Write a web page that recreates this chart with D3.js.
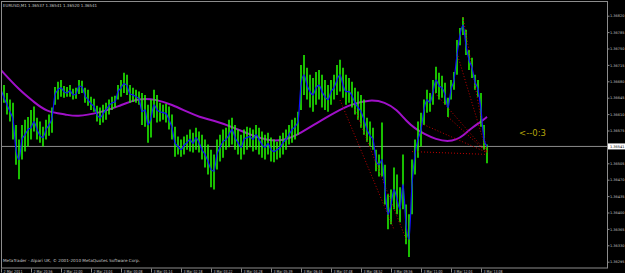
<!DOCTYPE html>
<html><head><meta charset="utf-8">
<script src="https://cdn.jsdelivr.net/npm/d3@7"></script>
<style>html,body{margin:0;padding:0;background:#000;overflow:hidden}svg{display:block}</style>
</head><body>
<script>
const symbolTitle = "EURUSD,M1 1.36537 1.36541 1.36520 1.36541";
const copyright = "MetaTrader - Alpari UK, \u00a9 2001-2010 MetaQuotes Software Corp.";
const timerLabel = "<--0:3";
const bidPrice = 1.36541;
const timeLabels = ["2 Mar 2011","2 Mar 20:56","2 Mar 22:00","2 Mar 23:04","3 Mar 00:08","3 Mar 01:14","3 Mar 02:18","3 Mar 03:22","3 Mar 04:28","3 Mar 05:39","3 Mar 06:44","3 Mar 07:48","3 Mar 08:52","3 Mar 09:56","3 Mar 11:00","3 Mar 12:04","3 Mar 13:08"];
const priceTicks = [1.36820,1.36785,1.36750,1.36715,1.36680,1.36645,1.36610,1.36575,1.36540,1.36505,1.36470,1.36435,1.36400,1.36365,1.36330,1.36295];

const high = [1.36679,1.36672,1.36655,1.36641,1.36634,1.36587,1.36556,1.36587,1.36598,1.36604,
1.36619,1.36626,1.36602,1.36594,1.36583,1.36598,1.36609,1.36624,1.36668,1.36679,
1.36683,1.36670,1.36668,1.36672,1.36664,1.36666,1.36683,1.36681,1.36666,1.36662,
1.36647,1.36643,1.36628,1.36624,1.36630,1.36634,1.36641,1.36647,1.36649,1.36672,
1.36683,1.36698,1.36694,1.36672,1.36666,1.36662,1.36658,1.36655,1.36651,1.36630,
1.36641,1.36662,1.36651,1.36634,1.36630,1.36632,1.36626,1.36609,1.36583,1.36562,
1.36556,1.36562,1.36566,1.36577,1.36570,1.36581,1.36573,1.36566,1.36556,1.36545,
1.36534,1.36524,1.36556,1.36566,1.36577,1.36581,1.36598,1.36602,1.36587,1.36577,
1.36566,1.36577,1.36583,1.36581,1.36577,1.36587,1.36581,1.36573,1.36566,1.36570,
1.36560,1.36556,1.36551,1.36564,1.36570,1.36577,1.36587,1.36598,1.36602,1.36615,
1.36715,1.36736,1.36709,1.36694,1.36687,1.36700,1.36704,1.36694,1.36683,1.36672,
1.36683,1.36694,1.36715,1.36726,1.36709,1.36694,1.36687,1.36679,1.36666,1.36658,
1.36651,1.36641,1.36602,1.36594,1.36581,1.36534,1.36524,1.36592,1.36502,1.36439,
1.36449,1.36496,1.36481,1.36454,1.36524,1.36417,1.36396,1.36513,1.36556,1.36594,
1.36613,1.36641,1.36662,1.36655,1.36683,1.36711,1.36698,1.36692,1.36677,1.36645,
1.36683,1.36700,1.36768,1.36794,1.36817,1.36790,1.36747,1.36730,1.36694,1.36683,
1.36655,1.36587,1.36545];
const low = [1.36641,1.36634,1.36609,1.36594,1.36556,1.36502,1.36471,1.36513,1.36530,1.36541,
1.36556,1.36573,1.36556,1.36549,1.36541,1.36556,1.36564,1.36570,1.36630,1.36641,
1.36647,1.36645,1.36647,1.36647,1.36641,1.36643,1.36653,1.36655,1.36634,1.36628,
1.36619,1.36615,1.36594,1.36587,1.36592,1.36598,1.36609,1.36619,1.36624,1.36641,
1.36647,1.36655,1.36651,1.36634,1.36636,1.36634,1.36630,1.36587,1.36583,1.36549,
1.36560,1.36602,1.36592,1.36594,1.36598,1.36592,1.36577,1.36556,1.36519,1.36524,
1.36519,1.36524,1.36534,1.36530,1.36528,1.36534,1.36528,1.36513,1.36496,1.36481,
1.36454,1.36449,1.36492,1.36509,1.36517,1.36534,1.36539,1.36545,1.36534,1.36524,
1.36513,1.36524,1.36534,1.36539,1.36530,1.36534,1.36524,1.36517,1.36513,1.36524,
1.36509,1.36507,1.36513,1.36517,1.36524,1.36534,1.36545,1.36549,1.36556,1.36566,
1.36619,1.36651,1.36641,1.36624,1.36615,1.36630,1.36641,1.36624,1.36619,1.36615,
1.36630,1.36641,1.36651,1.36658,1.36645,1.36630,1.36634,1.36624,1.36609,1.36598,
1.36581,1.36566,1.36551,1.36541,1.36534,1.36488,1.36477,1.36477,1.36417,1.36364,
1.36375,1.36407,1.36396,1.36379,1.36407,1.36332,1.36305,1.36396,1.36481,1.36517,
1.36541,1.36587,1.36613,1.36615,1.36630,1.36655,1.36641,1.36645,1.36630,1.36604,
1.36641,1.36662,1.36694,1.36757,1.36779,1.36736,1.36704,1.36687,1.36662,1.36647,
1.36583,1.36534,1.36505];
const close = [1.36662,1.36645,1.36630,1.36615,1.36598,1.36534,1.36513,1.36556,1.36566,1.36577,
1.36581,1.36594,1.36577,1.36564,1.36560,1.36577,1.36587,1.36602,1.36651,1.36662,
1.36666,1.36658,1.36655,1.36660,1.36651,1.36653,1.36670,1.36668,1.36649,1.36641,
1.36632,1.36626,1.36609,1.36602,1.36611,1.36619,1.36628,1.36634,1.36636,1.36658,
1.36666,1.36675,1.36670,1.36653,1.36651,1.36647,1.36643,1.36615,1.36619,1.36587,
1.36602,1.36630,1.36619,1.36615,1.36613,1.36611,1.36598,1.36581,1.36549,1.36541,
1.36534,1.36543,1.36549,1.36556,1.36547,1.36560,1.36549,1.36534,1.36524,1.36509,
1.36492,1.36488,1.36524,1.36539,1.36551,1.36556,1.36566,1.36577,1.36560,1.36549,
1.36539,1.36556,1.36560,1.36562,1.36556,1.36566,1.36556,1.36545,1.36539,1.36547,
1.36534,1.36530,1.36534,1.36539,1.36549,1.36556,1.36566,1.36577,1.36583,1.36594,
1.36672,1.36694,1.36672,1.36658,1.36651,1.36666,1.36672,1.36658,1.36647,1.36641,
1.36658,1.36666,1.36683,1.36694,1.36672,1.36658,1.36658,1.36649,1.36634,1.36624,
1.36615,1.36598,1.36577,1.36564,1.36556,1.36513,1.36502,1.36513,1.36449,1.36396,
1.36417,1.36449,1.36428,1.36407,1.36460,1.36375,1.36343,1.36460,1.36524,1.36556,
1.36577,1.36619,1.36641,1.36634,1.36658,1.36683,1.36670,1.36666,1.36651,1.36624,
1.36662,1.36683,1.36736,1.36779,1.36800,1.36757,1.36726,1.36709,1.36679,1.36662,
1.36619,1.36556,1.36541];

// slow moving average, sampled: [bar index, price]
const slowMA = [[0,1.36704],[6,1.36662],[11,1.36636],[15,1.36615],[22,1.36609],[25,1.36604],[33,1.36613],[39,1.36626],[46,1.36645],[52,1.36641],[57,1.36630],[62,1.36615],[66,1.36604],[71,1.36596],[77,1.36583],[83,1.36566],[89,1.36553],[94,1.36553],[99,1.36566],[105,1.36590],[111,1.36613],[117,1.36632],[123,1.36641],[128,1.36636],[132,1.36619],[135,1.36596],[138,1.36579],[141,1.36568],[145,1.36556],[149,1.36551],[152,1.36556],[154,1.36564],[157,1.36581],[160,1.36594],[162,1.36604]];

// dotted trend lines: [from index, from price, to index, to price]
const fanLines = [[154,1.36817,162,1.36528],[152,1.36740,162,1.36528],[149,1.36604,162,1.36528],[144,1.36660,162,1.36528],[140,1.36590,162,1.36528],[137,1.36530,162,1.36524],[113,1.36640,131,1.36364],[118,1.36620,135,1.36343]];

const W = 625, H = 273;
const L = 1, R = 607, T = 1, B = 268;
const svg = d3.select("body").append("svg").attr("width", W).attr("height", H).style("background", "#000");
const font = "'DejaVu Sans', sans-serif";
const fs = "4.2px";

const x = d3.scaleLinear().domain([0, 202]).range([L, R]);
const y = d3.scaleLinear().domain([1.36295, 1.36820]).range([261.7, 15.7]);

const g = svg.append("g");
svg.append("clipPath").attr("id", "c").append("rect").attr("x", L).attr("y", T).attr("width", R - L).attr("height", B - T);
const plot = g.append("g").attr("clip-path", "url(#c)");

// bid line
plot.append("line").attr("x1", L).attr("x2", R).attr("y1", y(bidPrice)).attr("y2", y(bidPrice)).attr("stroke", "#8c8c8c").attr("stroke-width", 1);

// slow MA
plot.append("path").datum(slowMA).attr("fill", "none").attr("stroke", "#a010c8").attr("stroke-width", 2)
  .attr("d", d3.line().x(d => x(d[0])).y(d => y(d[1])).curve(d3.curveBasis));

// bars
plot.selectAll("line.bar").data(high).join("line").attr("class", "bar")
  .attr("x1", (d, i) => x(i)).attr("x2", (d, i) => x(i))
  .attr("y1", d => y(d)).attr("y2", (d, i) => y(low[i]))
  .attr("stroke", "#22ff00").attr("stroke-width", 1.5);

// fan dotted lines
plot.selectAll("line.fan").data(fanLines).join("line").attr("class", "fan")
  .attr("x1", d => x(d[0])).attr("y1", d => y(d[1])).attr("x2", d => x(d[2])).attr("y2", d => y(d[3]))
  .attr("stroke", "#c00000").attr("stroke-width", 1).attr("stroke-dasharray", "1,2");

// fast line through closes
plot.append("path").datum(close).attr("fill", "none").attr("stroke", "#1010ff").attr("stroke-width", 1.2)
  .attr("d", d3.line().x((d, i) => x(i)).y(d => y(d)).curve(d3.curveMonotoneX));

// frame
g.append("rect").attr("x", L + 0.5).attr("y", T + 0.5).attr("width", R - L).attr("height", B - T - 0.5)
  .attr("fill", "none").attr("stroke", "#8c8c8c").attr("stroke-width", 1);

// y axis
const yfs = "3.5px";
const ya = d3.axisRight(y).tickValues(priceTicks).tickFormat(d3.format(".5f")).tickSize(2).tickPadding(0.5);
const yg = svg.append("g").attr("transform", `translate(${R + 0.5},0)`).call(ya);
yg.select(".domain").remove();
yg.selectAll("line").attr("stroke", "#8c8c8c");
yg.selectAll("text").attr("fill", "#c8c8c8").style("font-family", font).style("font-size", yfs);

// bid price box
svg.append("rect").attr("x", R + 1).attr("y", y(bidPrice) - 3).attr("width", W - R - 1).attr("height", 6).attr("fill", "#fff");
svg.append("text").attr("x", R + 3).attr("y", y(bidPrice)).attr("dy", "0.35em").text(d3.format(".5f")(bidPrice))
  .attr("fill", "#000").style("font-family", font).style("font-size", yfs);

// x axis
const xa = d3.axisBottom(x).tickValues(timeLabels.map((d, i) => i * 10)).tickFormat((d, i) => timeLabels[i]).tickSize(4).tickPadding(0);
const xg = svg.append("g").attr("transform", `translate(${0},${B + 0.5})`).call(xa);
xg.select(".domain").remove();
xg.selectAll("line").attr("stroke", "#8c8c8c");
xg.selectAll("text").attr("fill", "#c8c8c8").attr("text-anchor", "start").attr("dx", "2").attr("y", 4).attr("dy", null)
  .attr("textLength", 19).attr("lengthAdjust", "spacingAndGlyphs")
  .style("font-family", font).style("font-size", fs);

// texts
svg.append("text").attr("x", 3).attr("y", 6.5).text(symbolTitle).attr("textLength", 94).attr("lengthAdjust", "spacingAndGlyphs")
  .attr("fill", "#c8c8c8").style("font-family", font).style("font-size", fs);
svg.append("text").attr("x", 3).attr("y", 262).text(copyright).attr("textLength", 137).attr("lengthAdjust", "spacingAndGlyphs")
  .attr("fill", "#c8c8c8").style("font-family", font).style("font-size", fs);
svg.append("text").attr("x", 519).attr("y", 136).text(timerLabel).attr("textLength", 27).attr("lengthAdjust", "spacingAndGlyphs")
  .attr("fill", "#b4a40a").style("font-family", font).style("font-size", "8px");
</script>
</body></html>
